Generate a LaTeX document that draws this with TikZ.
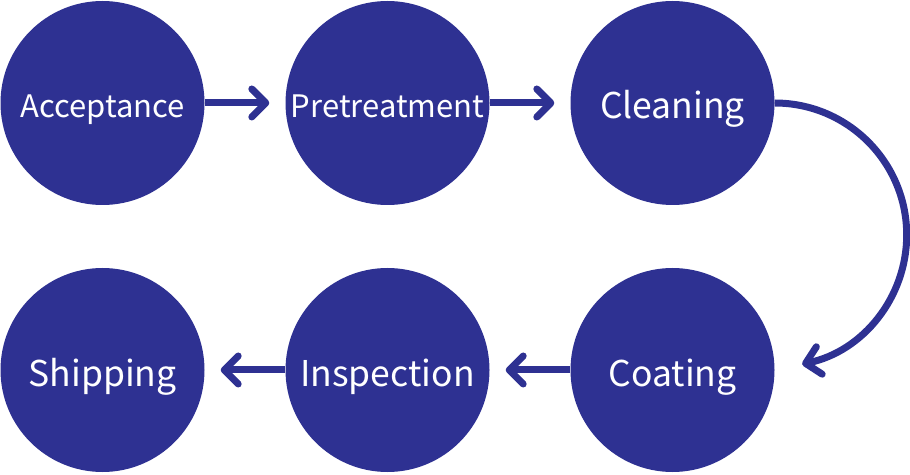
\documentclass[tikz,border=0pt]{standalone}
\usepackage{fontspec}
\setmainfont{Noto Sans CJK KR}
\usetikzlibrary{arrows.meta}
\definecolor{navy}{HTML}{2E3192}
\tikzset{
  stepcircle/.style={circle, fill=navy, text=white, minimum size=204pt, inner sep=0pt},
  bigtext/.style={font=\fontsize{35.5}{40}\selectfont, text height=32pt, text depth=0pt},
  smalltext/.style={font=\fontsize{31}{35}\selectfont, text height=30pt, text depth=0pt},
  flow/.style={draw=navy, line width=7pt, -{Straight Barb[length=14pt,width=28pt,round]}},
}
\begin{document}
\begin{tikzpicture}[x=1pt,y=1pt]
\useasboundingbox (0,0) rectangle (910,474);
\node[stepcircle, smalltext] (acc) at (102.5,371) {Acceptance};
\node[stepcircle, smalltext] (pre) at (387.5,371) {Pretreatment};
\node[stepcircle, bigtext] (cle) at (672.5,371) {Cleaning};
\node[stepcircle, bigtext] (coa) at (672.5,104) {Coating};
\node[stepcircle, bigtext] (ins) at (387.5,104) {Inspection};
\node[stepcircle, bigtext] (shi) at (102.5,104) {Shipping};
\draw[flow, shorten >=16pt] (acc.east) -- (pre.west);
\draw[flow, shorten >=16pt] (pre.east) -- (cle.west);
\draw[flow] (cle.east) arc[start angle=90, end angle=-78, radius=132pt] coordinate (arcend);
\draw[flow, shorten >=16pt] (coa.west) -- (ins.east);
\draw[flow, shorten >=16pt] (ins.west) -- (shi.east);
\end{tikzpicture}
\end{document}
